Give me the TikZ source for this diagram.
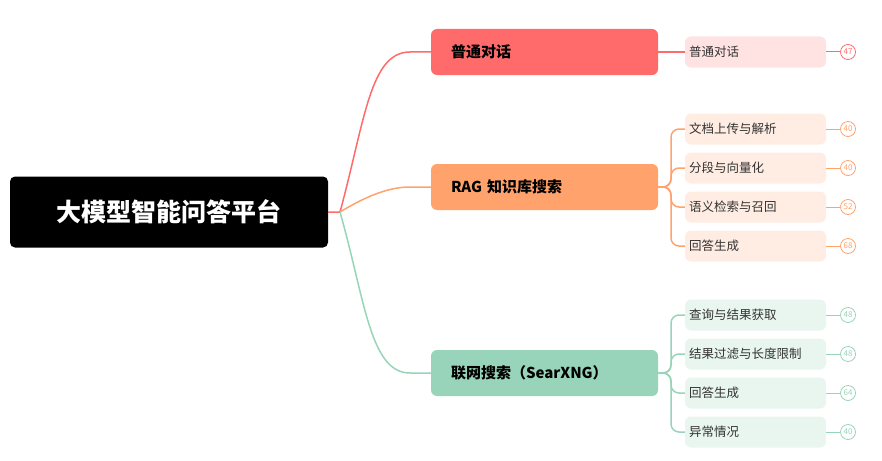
\documentclass[tikz,border=0pt]{standalone}
\usepackage{fontspec}
\setmainfont{Noto Sans CJK SC}
\begin{document}
\begin{tikzpicture}[x=1pt,y=-1pt,
  root/.style={fill=black,rounded corners=5pt,minimum width=318pt,minimum height=71pt,text=white,font=\fontsize{25}{28}\selectfont\bfseries},
  br/.style={rounded corners=6pt,minimum width=227pt,minimum height=46pt,text width=187pt,align=left,inner xsep=20pt,font=\fontsize{15}{18}\selectfont\bfseries,text=black},
  leaf/.style={rounded corners=6pt,minimum width=141pt,minimum height=31pt,text width=133pt,align=left,inner xsep=4pt,font=\fontsize{12.5}{15}\selectfont,text=black!80},
  badge/.style={circle,draw,line width=0.8pt,fill=white,minimum size=15pt,inner sep=0pt,font=\fontsize{8}{9}\selectfont},
  con/.style={line width=1.5pt}]
\useasboundingbox (0,0) rectangle (882,460);
\definecolor{cr}{HTML}{FF6B6B}\definecolor{cr2}{HTML}{FFE3E3}
\definecolor{co}{HTML}{FFA26B}\definecolor{co2}{HTML}{FFEDE3}
\definecolor{cg}{HTML}{98D4B9}\definecolor{cg2}{HTML}{E8F6EF}
\node[root] (r) at (169,212) {大模型智能问答平台};
\coordinate (rc) at (340,212);
\node[br,fill=cr] (b1) at (544.5,52) {普通对话};
\node[br,fill=co] (b2) at (544.5,187) {RAG 知识库搜索};
\node[br,fill=cg] (b3) at (544.5,373) {联网搜索（SearXNG）};
\draw[con,cr] (r.east) -- (rc) .. controls (365,120) and (370,52) .. (410,52) -- (b1.west);
\draw[con,co] (rc) .. controls (360,200) and (385,187) .. (410,187) -- (b2.west);
\draw[con,cg] (rc) .. controls (365,300) and (370,373) .. (410,373) -- (b3.west);
% leaves
\foreach \n/\y/\t/\c/\f/\k/\bd in {
 l1/52/普通对话/cr/cr2/b1/47,
 l2/129/文档上传与解析/co/co2/b2/40,
 l3/168/分段与向量化/co/co2/b2/40,
 l4/207/语义检索与召回/co/co2/b2/52,
 l5/246/回答生成/co/co2/b2/68,
 l6/315/查询与结果获取/cg/cg2/b3/48,
 l7/354/结果过滤与长度限制/cg/cg2/b3/48,
 l8/393/回答生成/cg/cg2/b3/64,
 l9/432/异常情况/cg/cg2/b3/40}{
 \node[leaf,fill=\f] (\n) at (755.5,\y) {\t};
 \node[badge,draw=\c,text=\c] (\n b) at (848,\y) {\bd};
 \draw[line width=1pt,\c] (\n.east) -- (\n b.west);
}
\draw[con,cr] (b1.east) -- (l1.west);
\foreach \n in {l2,l3,l4,l5}{
 \draw[con,co,rounded corners=8pt] (b2.east) -- (671,187) |- (\n.west);}
\foreach \n in {l6,l7,l8,l9}{
 \draw[con,cg,rounded corners=8pt] (b3.east) -- (671,373) |- (\n.west);}
\end{tikzpicture}
\end{document}
